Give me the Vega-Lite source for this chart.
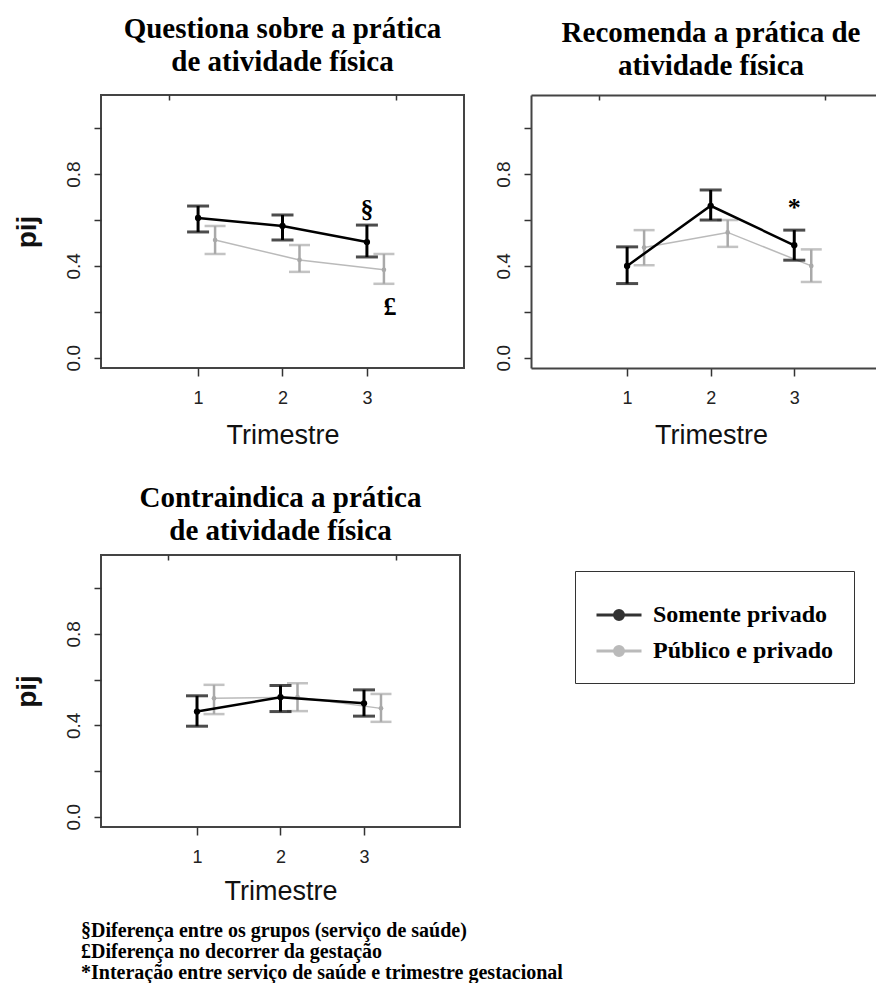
{
  "$schema": "https://vega.github.io/schema/vega-lite/v6.json",
  "background": "white",
  "padding": {"left": 12, "top": 14, "right": 0, "bottom": 0},
  "autosize": {"type": "pad"},
  "datasets": {
    "d": [
      {"painel": "Q", "grupo": "Somente privado", "trimestre": 1, "media": 0.609, "lo": 0.548, "hi": 0.661},
      {"painel": "Q", "grupo": "Somente privado", "trimestre": 2, "media": 0.574, "lo": 0.513, "hi": 0.622},
      {"painel": "Q", "grupo": "Somente privado", "trimestre": 3, "media": 0.504, "lo": 0.439, "hi": 0.578, "sig": "§"},
      {"painel": "Q", "grupo": "Público e privado", "trimestre": 1, "media": 0.513, "lo": 0.452, "hi": 0.574},
      {"painel": "Q", "grupo": "Público e privado", "trimestre": 2, "media": 0.426, "lo": 0.374, "hi": 0.491},
      {"painel": "Q", "grupo": "Público e privado", "trimestre": 3, "media": 0.383, "lo": 0.322, "hi": 0.452, "sig": "£"},
      {"painel": "R", "grupo": "Somente privado", "trimestre": 1, "media": 0.400, "lo": 0.323, "hi": 0.483},
      {"painel": "R", "grupo": "Somente privado", "trimestre": 2, "media": 0.662, "lo": 0.600, "hi": 0.731},
      {"painel": "R", "grupo": "Somente privado", "trimestre": 3, "media": 0.490, "lo": 0.425, "hi": 0.556, "sig": "*"},
      {"painel": "R", "grupo": "Público e privado", "trimestre": 1, "media": 0.480, "lo": 0.403, "hi": 0.556},
      {"painel": "R", "grupo": "Público e privado", "trimestre": 2, "media": 0.546, "lo": 0.483, "hi": 0.600},
      {"painel": "R", "grupo": "Público e privado", "trimestre": 3, "media": 0.400, "lo": 0.330, "hi": 0.472},
      {"painel": "C", "grupo": "Somente privado", "trimestre": 1, "media": 0.460, "lo": 0.396, "hi": 0.529},
      {"painel": "C", "grupo": "Somente privado", "trimestre": 2, "media": 0.523, "lo": 0.460, "hi": 0.574},
      {"painel": "C", "grupo": "Somente privado", "trimestre": 3, "media": 0.496, "lo": 0.440, "hi": 0.555},
      {"painel": "C", "grupo": "Público e privado", "trimestre": 1, "media": 0.518, "lo": 0.449, "hi": 0.577},
      {"painel": "C", "grupo": "Público e privado", "trimestre": 2, "media": 0.523, "lo": 0.462, "hi": 0.584},
      {"painel": "C", "grupo": "Público e privado", "trimestre": 3, "media": 0.474, "lo": 0.415, "hi": 0.537}
    ]
  },
  "title": {
    "text": ["§Diferença entre os grupos (serviço de saúde)", "£Diferença no decorrer da gestação", "*Interação entre serviço de saúde e trimestre gestacional"],
    "orient": "bottom", "anchor": "start", "frame": "group", "align": "left", "baseline": "top",
    "offset": 16, "dx": -20, "font": "Liberation Serif", "fontSize": 20, "fontWeight": "bold", "lineHeight": 21, "color": "#000"
  },
  "columns": 2,
  "bounds": "flush",
  "spacing": {"row": 187, "column": 67},
  "concat": [
    {
      "width": 363, "height": 273,
      "title": {"text": ["Questiona sobre a prática", "de atividade física"], "offset": 17},
      "data": {"name": "d"},
      "transform": [{"filter": "datum.painel == 'Q'"}],
      "layer": [
        {
          "encoding": {
            "x": {"field": "trimestre", "type": "quantitative", "scale": {"domain": [-0.15, 4.15], "nice": false, "zero": false},
                  "axis": {"values": [1, 2, 3], "format": "d", "title": "Trimestre", "titleY": 75}},
            "color": {"field": "grupo", "type": "nominal", "scale": {"domain": ["Somente privado", "Público e privado"], "range": ["#000000", "#a9a9a9"]},
                      "legend": {"title": null, "orient": "none", "legendX": 474, "legendY": 476, "direction": "vertical", "padding": 20, "rowPadding": 0, "strokeColor": "#333", "symbolType": "M-1,0H1M-0.2,0A0.2,0.2,0,1,0,0.2,0A0.2,0.2,0,1,0,-0.2,0Z", "symbolSize": 2025, "symbolStrokeWidth": 3, "labelFont": "Liberation Serif", "labelFontSize": 24, "labelFontWeight": "bold", "labelColor": "#000", "labelOffset": 10, "labelLimit": 400, "encoding": {"symbols": {"update": {"fill": {"scale": "color", "field": "value"}, "fillOpacity": {"value": 1}, "opacity": {"value": 1}}}}}}
          },
          "layer": [
            {"transform": [{"filter": "datum.grupo == 'Público e privado'"}], "mark": {"type": "line", "xOffset": 17, "strokeWidth": 1.5, "opacity": 0.8},
             "encoding": {"y": {"field": "media", "type": "quantitative", "scale": {"domain": [-0.045, 1.145], "nice": false, "zero": false}, "axis": {"values": [0, 0.2, 0.4, 0.6, 0.8, 1], "labelExpr": "datum.value == 0 || datum.value == 0.4 || datum.value == 0.8 ? format(datum.value, '.1f') : ''", "title": "pij", "titleX": -66}}}},
            {"transform": [{"filter": "datum.grupo == 'Público e privado'"}], "mark": {"type": "rule", "xOffset": 17, "strokeWidth": 2.5},
             "encoding": {"y": {"field": "lo", "type": "quantitative", "scale": {"domain": [-0.045, 1.145], "nice": false, "zero": false}, "axis": {"values": [0, 0.2, 0.4, 0.6, 0.8, 1], "labelExpr": "datum.value == 0 || datum.value == 0.4 || datum.value == 0.8 ? format(datum.value, '.1f') : ''", "title": "pij", "titleX": -66}}, "y2": {"field": "hi"}}},
            {"transform": [{"filter": "datum.grupo == 'Público e privado'"}, {"fold": ["lo", "hi"], "as": ["limite", "valor"]}], "mark": {"type": "tick", "orient": "horizontal", "xOffset": 17, "size": 21, "thickness": 2.5},
             "encoding": {"y": {"field": "valor", "type": "quantitative", "scale": {"domain": [-0.045, 1.145], "nice": false, "zero": false}, "axis": {"values": [0, 0.2, 0.4, 0.6, 0.8, 1], "labelExpr": "datum.value == 0 || datum.value == 0.4 || datum.value == 0.8 ? format(datum.value, '.1f') : ''", "title": "pij", "titleX": -66}}}},
            {"transform": [{"filter": "datum.grupo == 'Público e privado'"}], "mark": {"type": "point", "filled": true, "xOffset": 17, "size": 22, "opacity": 1},
             "encoding": {"y": {"field": "media", "type": "quantitative", "scale": {"domain": [-0.045, 1.145], "nice": false, "zero": false}, "axis": {"values": [0, 0.2, 0.4, 0.6, 0.8, 1], "labelExpr": "datum.value == 0 || datum.value == 0.4 || datum.value == 0.8 ? format(datum.value, '.1f') : ''", "title": "pij", "titleX": -66}}}},
            {"transform": [{"filter": "datum.grupo == 'Somente privado'"}], "mark": {"type": "line", "strokeWidth": 2.5},
             "encoding": {"y": {"field": "media", "type": "quantitative", "scale": {"domain": [-0.045, 1.145], "nice": false, "zero": false}, "axis": {"values": [0, 0.2, 0.4, 0.6, 0.8, 1], "labelExpr": "datum.value == 0 || datum.value == 0.4 || datum.value == 0.8 ? format(datum.value, '.1f') : ''", "title": "pij", "titleX": -66}}}},
            {"transform": [{"filter": "datum.grupo == 'Somente privado'"}], "mark": {"type": "rule", "strokeWidth": 3},
             "encoding": {"y": {"field": "lo", "type": "quantitative", "scale": {"domain": [-0.045, 1.145], "nice": false, "zero": false}, "axis": {"values": [0, 0.2, 0.4, 0.6, 0.8, 1], "labelExpr": "datum.value == 0 || datum.value == 0.4 || datum.value == 0.8 ? format(datum.value, '.1f') : ''", "title": "pij", "titleX": -66}}, "y2": {"field": "hi"}}},
            {"transform": [{"filter": "datum.grupo == 'Somente privado'"}, {"fold": ["lo", "hi"], "as": ["limite", "valor"]}], "mark": {"type": "tick", "orient": "horizontal", "size": 22, "thickness": 3},
             "encoding": {"y": {"field": "valor", "type": "quantitative", "scale": {"domain": [-0.045, 1.145], "nice": false, "zero": false}, "axis": {"values": [0, 0.2, 0.4, 0.6, 0.8, 1], "labelExpr": "datum.value == 0 || datum.value == 0.4 || datum.value == 0.8 ? format(datum.value, '.1f') : ''", "title": "pij", "titleX": -66}}}},
            {"transform": [{"filter": "datum.grupo == 'Somente privado'"}], "mark": {"type": "point", "filled": true, "size": 40, "opacity": 1},
             "encoding": {"y": {"field": "media", "type": "quantitative", "scale": {"domain": [-0.045, 1.145], "nice": false, "zero": false}, "axis": {"values": [0, 0.2, 0.4, 0.6, 0.8, 1], "labelExpr": "datum.value == 0 || datum.value == 0.4 || datum.value == 0.8 ? format(datum.value, '.1f') : ''", "title": "pij", "titleX": -66}}}},
            {"transform": [{"filter": "datum.grupo == 'Somente privado'"}, {"filter": "datum.sig"}], "mark": {"type": "text", "font": "Liberation Serif", "fontSize": 26, "fontWeight": "bold", "baseline": "bottom", "dy": -2},
             "encoding": {"y": {"field": "hi", "type": "quantitative", "scale": {"domain": [-0.045, 1.145], "nice": false, "zero": false}, "axis": {"values": [0, 0.2, 0.4, 0.6, 0.8, 1], "labelExpr": "datum.value == 0 || datum.value == 0.4 || datum.value == 0.8 ? format(datum.value, '.1f') : ''", "title": "pij", "titleX": -66}}, "text": {"field": "sig"}, "color": {"value": "#000"}}},
            {"transform": [{"filter": "datum.grupo == 'Público e privado'"}, {"filter": "datum.sig"}], "mark": {"type": "text", "font": "Liberation Serif", "fontSize": 26, "fontWeight": "bold", "baseline": "top", "dy": 10, "dx": 6, "xOffset": 17},
             "encoding": {"y": {"field": "lo", "type": "quantitative", "scale": {"domain": [-0.045, 1.145], "nice": false, "zero": false}, "axis": {"values": [0, 0.2, 0.4, 0.6, 0.8, 1], "labelExpr": "datum.value == 0 || datum.value == 0.4 || datum.value == 0.8 ? format(datum.value, '.1f') : ''", "title": "pij", "titleX": -66}}, "text": {"field": "sig"}, "color": {"value": "#000"}}}
          ]
        },
        {
          "mark": {"type": "point", "opacity": 0},
          "encoding": {"x": {"field": "trimestre", "type": "quantitative", "scale": {"domain": [-0.15, 4.15], "nice": false, "zero": false}, "axis": {"orient": "top", "values": [0.66, 3.35], "labels": false, "title": null, "tickSize": -5}}}
        }
      ],
      "resolve": {"axis": {"x": "independent"}}
    },
    {
      "width": 346, "height": 273,
      "view": {"stroke": null},
      "title": {"text": ["Recomenda a prática de", "atividade física"], "dx": 7, "offset": 13},
      "data": {"name": "d"},
      "transform": [{"filter": "datum.painel == 'R'"}],
      "layer": [
        {
          "encoding": {
            "x": {"field": "trimestre", "type": "quantitative", "scale": {"domain": [-0.15, 3.99], "nice": false, "zero": false},
                  "axis": {"values": [1, 2, 3], "format": "d", "title": "Trimestre", "titleY": 75, "titleX": 180, "domain": true, "domainColor": "#444", "domainWidth": 2}},
            "color": {"field": "grupo", "type": "nominal", "scale": {"domain": ["Somente privado", "Público e privado"], "range": ["#000000", "#a9a9a9"]},
                      "legend": {"title": null, "orient": "none", "legendX": 474, "legendY": 476, "direction": "vertical", "padding": 20, "rowPadding": 0, "strokeColor": "#333", "symbolType": "M-1,0H1M-0.2,0A0.2,0.2,0,1,0,0.2,0A0.2,0.2,0,1,0,-0.2,0Z", "symbolSize": 2025, "symbolStrokeWidth": 3, "labelFont": "Liberation Serif", "labelFontSize": 24, "labelFontWeight": "bold", "labelColor": "#000", "labelOffset": 10, "labelLimit": 400, "encoding": {"symbols": {"update": {"fill": {"scale": "color", "field": "value"}, "fillOpacity": {"value": 1}, "opacity": {"value": 1}}}}}}
          },
          "layer": [
            {"transform": [{"filter": "datum.grupo == 'Público e privado'"}], "mark": {"type": "line", "xOffset": 17, "strokeWidth": 1.5, "opacity": 0.8},
             "encoding": {"y": {"field": "media", "type": "quantitative", "scale": {"domain": [-0.045, 1.145], "nice": false, "zero": false}, "axis": {"values": [0, 0.2, 0.4, 0.6, 0.8, 1], "labelExpr": "datum.value == 0 || datum.value == 0.4 || datum.value == 0.8 ? format(datum.value, '.1f') : ''", "title": null, "domain": true, "domainColor": "#444", "domainWidth": 2}}}},
            {"transform": [{"filter": "datum.grupo == 'Público e privado'"}], "mark": {"type": "rule", "xOffset": 17, "strokeWidth": 2.5},
             "encoding": {"y": {"field": "lo", "type": "quantitative", "scale": {"domain": [-0.045, 1.145], "nice": false, "zero": false}, "axis": {"values": [0, 0.2, 0.4, 0.6, 0.8, 1], "labelExpr": "datum.value == 0 || datum.value == 0.4 || datum.value == 0.8 ? format(datum.value, '.1f') : ''", "title": null, "domain": true, "domainColor": "#444", "domainWidth": 2}}, "y2": {"field": "hi"}}},
            {"transform": [{"filter": "datum.grupo == 'Público e privado'"}, {"fold": ["lo", "hi"], "as": ["limite", "valor"]}], "mark": {"type": "tick", "orient": "horizontal", "xOffset": 17, "size": 21, "thickness": 2.5},
             "encoding": {"y": {"field": "valor", "type": "quantitative", "scale": {"domain": [-0.045, 1.145], "nice": false, "zero": false}, "axis": {"values": [0, 0.2, 0.4, 0.6, 0.8, 1], "labelExpr": "datum.value == 0 || datum.value == 0.4 || datum.value == 0.8 ? format(datum.value, '.1f') : ''", "title": null, "domain": true, "domainColor": "#444", "domainWidth": 2}}}},
            {"transform": [{"filter": "datum.grupo == 'Público e privado'"}], "mark": {"type": "point", "filled": true, "xOffset": 17, "size": 22, "opacity": 1},
             "encoding": {"y": {"field": "media", "type": "quantitative", "scale": {"domain": [-0.045, 1.145], "nice": false, "zero": false}, "axis": {"values": [0, 0.2, 0.4, 0.6, 0.8, 1], "labelExpr": "datum.value == 0 || datum.value == 0.4 || datum.value == 0.8 ? format(datum.value, '.1f') : ''", "title": null, "domain": true, "domainColor": "#444", "domainWidth": 2}}}},
            {"transform": [{"filter": "datum.grupo == 'Somente privado'"}], "mark": {"type": "line", "strokeWidth": 2.5},
             "encoding": {"y": {"field": "media", "type": "quantitative", "scale": {"domain": [-0.045, 1.145], "nice": false, "zero": false}, "axis": {"values": [0, 0.2, 0.4, 0.6, 0.8, 1], "labelExpr": "datum.value == 0 || datum.value == 0.4 || datum.value == 0.8 ? format(datum.value, '.1f') : ''", "title": null, "domain": true, "domainColor": "#444", "domainWidth": 2}}}},
            {"transform": [{"filter": "datum.grupo == 'Somente privado'"}], "mark": {"type": "rule", "strokeWidth": 3},
             "encoding": {"y": {"field": "lo", "type": "quantitative", "scale": {"domain": [-0.045, 1.145], "nice": false, "zero": false}, "axis": {"values": [0, 0.2, 0.4, 0.6, 0.8, 1], "labelExpr": "datum.value == 0 || datum.value == 0.4 || datum.value == 0.8 ? format(datum.value, '.1f') : ''", "title": null, "domain": true, "domainColor": "#444", "domainWidth": 2}}, "y2": {"field": "hi"}}},
            {"transform": [{"filter": "datum.grupo == 'Somente privado'"}, {"fold": ["lo", "hi"], "as": ["limite", "valor"]}], "mark": {"type": "tick", "orient": "horizontal", "size": 22, "thickness": 3},
             "encoding": {"y": {"field": "valor", "type": "quantitative", "scale": {"domain": [-0.045, 1.145], "nice": false, "zero": false}, "axis": {"values": [0, 0.2, 0.4, 0.6, 0.8, 1], "labelExpr": "datum.value == 0 || datum.value == 0.4 || datum.value == 0.8 ? format(datum.value, '.1f') : ''", "title": null, "domain": true, "domainColor": "#444", "domainWidth": 2}}}},
            {"transform": [{"filter": "datum.grupo == 'Somente privado'"}], "mark": {"type": "point", "filled": true, "size": 40, "opacity": 1},
             "encoding": {"y": {"field": "media", "type": "quantitative", "scale": {"domain": [-0.045, 1.145], "nice": false, "zero": false}, "axis": {"values": [0, 0.2, 0.4, 0.6, 0.8, 1], "labelExpr": "datum.value == 0 || datum.value == 0.4 || datum.value == 0.8 ? format(datum.value, '.1f') : ''", "title": null, "domain": true, "domainColor": "#444", "domainWidth": 2}}}},
            {"transform": [{"filter": "datum.grupo == 'Somente privado'"}, {"filter": "datum.sig"}], "mark": {"type": "text", "font": "Liberation Serif", "fontSize": 26, "fontWeight": "bold", "baseline": "bottom", "dy": -9},
             "encoding": {"y": {"field": "hi", "type": "quantitative", "scale": {"domain": [-0.045, 1.145], "nice": false, "zero": false}, "axis": {"values": [0, 0.2, 0.4, 0.6, 0.8, 1], "labelExpr": "datum.value == 0 || datum.value == 0.4 || datum.value == 0.8 ? format(datum.value, '.1f') : ''", "title": null, "domain": true, "domainColor": "#444", "domainWidth": 2}}, "text": {"field": "sig"}, "color": {"value": "#000"}}}
          ]
        },
        {
          "mark": {"type": "point", "opacity": 0},
          "encoding": {"x": {"field": "trimestre", "type": "quantitative", "scale": {"domain": [-0.15, 3.99], "nice": false, "zero": false}, "axis": {"orient": "top", "values": [0.665, 3.37], "labels": false, "title": null, "tickSize": -5, "domain": true, "domainColor": "#444", "domainWidth": 2}}}
        }
      ],
      "resolve": {"axis": {"x": "independent"}}
    },
    {
      "width": 359, "height": 272,
      "title": {"text": ["Contraindica a prática", "de atividade física"], "offset": 8},
      "data": {"name": "d"},
      "transform": [{"filter": "datum.painel == 'C'"}],
      "layer": [
        {
          "encoding": {
            "x": {"field": "trimestre", "type": "quantitative", "scale": {"domain": [-0.15, 4.15], "nice": false, "zero": false},
                  "axis": {"values": [1, 2, 3], "format": "d", "title": "Trimestre", "titleY": 72}},
            "color": {"field": "grupo", "type": "nominal", "scale": {"domain": ["Somente privado", "Público e privado"], "range": ["#000000", "#a9a9a9"]},
                      "legend": {"title": null, "orient": "none", "legendX": 474, "legendY": 476, "direction": "vertical", "padding": 20, "rowPadding": 0, "strokeColor": "#333", "symbolType": "M-1,0H1M-0.2,0A0.2,0.2,0,1,0,0.2,0A0.2,0.2,0,1,0,-0.2,0Z", "symbolSize": 2025, "symbolStrokeWidth": 3, "labelFont": "Liberation Serif", "labelFontSize": 24, "labelFontWeight": "bold", "labelColor": "#000", "labelOffset": 10, "labelLimit": 400, "encoding": {"symbols": {"update": {"fill": {"scale": "color", "field": "value"}, "fillOpacity": {"value": 1}, "opacity": {"value": 1}}}}}}
          },
          "layer": [
            {"transform": [{"filter": "datum.grupo == 'Público e privado'"}], "mark": {"type": "line", "xOffset": 17, "strokeWidth": 1.5, "opacity": 0.8},
             "encoding": {"y": {"field": "media", "type": "quantitative", "scale": {"domain": [-0.045, 1.145], "nice": false, "zero": false}, "axis": {"values": [0, 0.2, 0.4, 0.6, 0.8, 1], "labelExpr": "datum.value == 0 || datum.value == 0.4 || datum.value == 0.8 ? format(datum.value, '.1f') : ''", "title": "pij", "titleX": -66}}}},
            {"transform": [{"filter": "datum.grupo == 'Público e privado'"}], "mark": {"type": "rule", "xOffset": 17, "strokeWidth": 2.5},
             "encoding": {"y": {"field": "lo", "type": "quantitative", "scale": {"domain": [-0.045, 1.145], "nice": false, "zero": false}, "axis": {"values": [0, 0.2, 0.4, 0.6, 0.8, 1], "labelExpr": "datum.value == 0 || datum.value == 0.4 || datum.value == 0.8 ? format(datum.value, '.1f') : ''", "title": "pij", "titleX": -66}}, "y2": {"field": "hi"}}},
            {"transform": [{"filter": "datum.grupo == 'Público e privado'"}, {"fold": ["lo", "hi"], "as": ["limite", "valor"]}], "mark": {"type": "tick", "orient": "horizontal", "xOffset": 17, "size": 21, "thickness": 2.5},
             "encoding": {"y": {"field": "valor", "type": "quantitative", "scale": {"domain": [-0.045, 1.145], "nice": false, "zero": false}, "axis": {"values": [0, 0.2, 0.4, 0.6, 0.8, 1], "labelExpr": "datum.value == 0 || datum.value == 0.4 || datum.value == 0.8 ? format(datum.value, '.1f') : ''", "title": "pij", "titleX": -66}}}},
            {"transform": [{"filter": "datum.grupo == 'Público e privado'"}], "mark": {"type": "point", "filled": true, "xOffset": 17, "size": 22, "opacity": 1},
             "encoding": {"y": {"field": "media", "type": "quantitative", "scale": {"domain": [-0.045, 1.145], "nice": false, "zero": false}, "axis": {"values": [0, 0.2, 0.4, 0.6, 0.8, 1], "labelExpr": "datum.value == 0 || datum.value == 0.4 || datum.value == 0.8 ? format(datum.value, '.1f') : ''", "title": "pij", "titleX": -66}}}},
            {"transform": [{"filter": "datum.grupo == 'Somente privado'"}], "mark": {"type": "line", "strokeWidth": 2.5},
             "encoding": {"y": {"field": "media", "type": "quantitative", "scale": {"domain": [-0.045, 1.145], "nice": false, "zero": false}, "axis": {"values": [0, 0.2, 0.4, 0.6, 0.8, 1], "labelExpr": "datum.value == 0 || datum.value == 0.4 || datum.value == 0.8 ? format(datum.value, '.1f') : ''", "title": "pij", "titleX": -66}}}},
            {"transform": [{"filter": "datum.grupo == 'Somente privado'"}], "mark": {"type": "rule", "strokeWidth": 3},
             "encoding": {"y": {"field": "lo", "type": "quantitative", "scale": {"domain": [-0.045, 1.145], "nice": false, "zero": false}, "axis": {"values": [0, 0.2, 0.4, 0.6, 0.8, 1], "labelExpr": "datum.value == 0 || datum.value == 0.4 || datum.value == 0.8 ? format(datum.value, '.1f') : ''", "title": "pij", "titleX": -66}}, "y2": {"field": "hi"}}},
            {"transform": [{"filter": "datum.grupo == 'Somente privado'"}, {"fold": ["lo", "hi"], "as": ["limite", "valor"]}], "mark": {"type": "tick", "orient": "horizontal", "size": 22, "thickness": 3},
             "encoding": {"y": {"field": "valor", "type": "quantitative", "scale": {"domain": [-0.045, 1.145], "nice": false, "zero": false}, "axis": {"values": [0, 0.2, 0.4, 0.6, 0.8, 1], "labelExpr": "datum.value == 0 || datum.value == 0.4 || datum.value == 0.8 ? format(datum.value, '.1f') : ''", "title": "pij", "titleX": -66}}}},
            {"transform": [{"filter": "datum.grupo == 'Somente privado'"}], "mark": {"type": "point", "filled": true, "size": 40, "opacity": 1},
             "encoding": {"y": {"field": "media", "type": "quantitative", "scale": {"domain": [-0.045, 1.145], "nice": false, "zero": false}, "axis": {"values": [0, 0.2, 0.4, 0.6, 0.8, 1], "labelExpr": "datum.value == 0 || datum.value == 0.4 || datum.value == 0.8 ? format(datum.value, '.1f') : ''", "title": "pij", "titleX": -66}}}}
          ]
        },
        {
          "mark": {"type": "point", "opacity": 0},
          "encoding": {"x": {"field": "trimestre", "type": "quantitative", "scale": {"domain": [-0.15, 4.15], "nice": false, "zero": false}, "axis": {"orient": "top", "values": [0.655, 3.38], "labels": false, "title": null, "tickSize": -5}}}
        }
      ],
      "resolve": {"axis": {"x": "independent"}}
    }
  ],
  "config": {
    "view": {"stroke": "#444", "strokeWidth": 2},
    "axis": {"domain": false, "grid": false, "tickColor": "#333", "tickWidth": 1.5, "labelFont": "Liberation Sans", "labelFontSize": 18, "labelColor": "#222", "titleFont": "Liberation Sans", "titleColor": "#111"},
    "axisX": {"tickSize": 8, "labelPadding": 13, "labelAngle": 0, "titleFontSize": 27, "titleFontWeight": "normal", "titleBaseline": "alphabetic"},
    "axisY": {"tickSize": 7, "labelPadding": 15, "labelFontSize": 19, "labelAngle": 270, "labelAlign": "center", "labelBaseline": "alphabetic", "titleFontSize": 28, "titleFontWeight": "bold", "titleAngle": 270, "titleBaseline": "alphabetic", "titleAlign": "center"},
    "title": {"font": "Liberation Serif", "fontSize": 29, "fontWeight": "bold", "color": "#000", "lineHeight": 33, "offset": 14, "anchor": "middle"}
  }
}
